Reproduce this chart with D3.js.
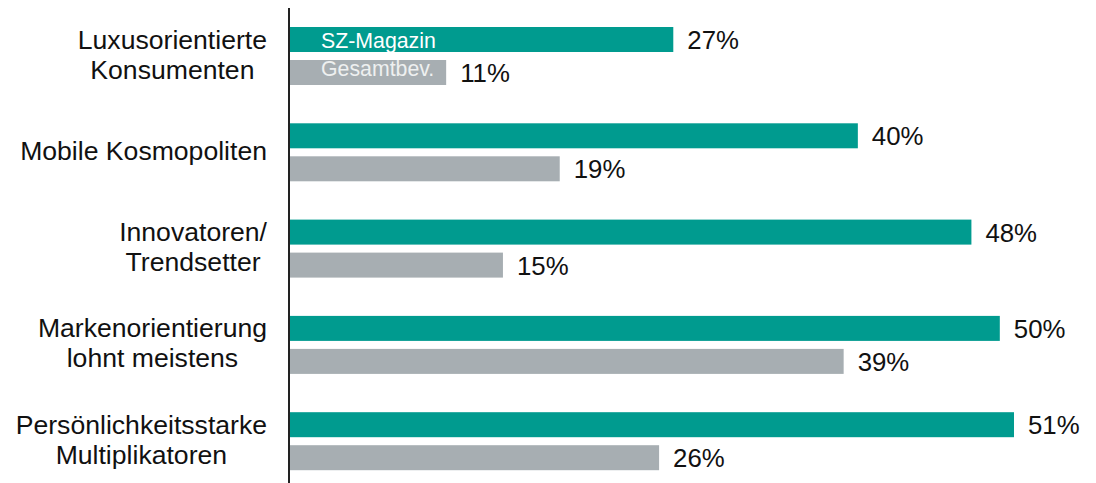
<!DOCTYPE html>
<html>
<head>
<meta charset="utf-8">
<script src="https://cdn.jsdelivr.net/npm/d3@7"></script>
<style>
  body { margin: 0; background: #fff; }
  svg { display: block; font-family: "Liberation Sans", Arial, sans-serif; }
</style>
</head>
<body>
<svg id="chart" width="1096" height="483"></svg>
<script>
"use strict";

var categories = [
    ["Luxusorientierte", "Konsumenten"],
    ["Mobile Kosmopoliten"],
    ["Innovatoren/", "Trendsetter"],
    ["Markenorientierung", "lohnt meistens"],
    ["Persönlichkeitsstarke", "Multiplikatoren"]
]
var seriesNames = ["SZ-Magazin", "Gesamtbev."]
var szMagazin = [27, 40, 48, 50, 51]
var gesamtbev = [11, 19, 15, 39, 26]

var colors = ["#009B8F", "#A7AEB2"]
var legendColors = ["#ffffff", "#eef0f0"]

var svg = d3.select("#chart")
var x0 = 290
var groupTop = 27
var groupStep = 96.3
var barH = 25
var barGap = 8

var x = d3.scaleLinear().domain([0, 51]).range([x0, 1014])
var y = d3.scaleBand()
    .domain(d3.range(categories.length))
    .range([groupTop, groupTop + groupStep * categories.length])
    .paddingInner(0)

var series = [szMagazin, gesamtbev]

series.forEach(function(values, s) {
    svg.append("g").selectAll("rect")
        .data(values)
        .enter().append("rect")
        .attr("x", x(0))
        .attr("y", function(d, i) { return y(i) + s * (barH + barGap) })
        .attr("width", function(d) { return x(d) - x(0) })
        .attr("height", barH)
        .attr("fill", colors[s])

    svg.append("g").selectAll("text")
        .data(values)
        .enter().append("text")
        .attr("x", function(d) { return x(d) + 14 })
        .attr("y", function(d, i) { return y(i) + s * (barH + barGap) + barH / 2 + 9.5 })
        .attr("font-size", 25.8)
        .attr("fill", "#111")
        .text(function(d) { return d + "%" })
})

// series names written inside the first group
var legendDy = [8.5, 3.5]
seriesNames.forEach(function(name, s) {
    svg.append("text")
        .attr("x", x0 + 31)
        .attr("y", y(0) + s * (barH + barGap) + barH / 2 + legendDy[s])
        .attr("font-size", 21.3)
        .attr("fill", legendColors[s])
        .text(name)
})

// category labels: block right-aligned, lines centred inside block
var labelRight = 267
var lineH = 30
categories.forEach(function(lines, i) {
    var g = svg.append("g")
    var texts = lines.map(function(line) {
        return g.append("text")
            .attr("font-size", 26.6)
            .attr("fill", "#111")
            .attr("text-anchor", "middle")
            .text(line)
    })
    var maxW = d3.max(texts, function(t) { return t.node().getComputedTextLength() })
    var cx = labelRight - maxW / 2
    var cy = y(i) + barH + barGap / 2
    var first = cy - (lines.length - 1) * lineH / 2 + 7.5
    texts.forEach(function(t, j) {
        t.attr("x", cx).attr("y", first + j * lineH)
    })
})

svg.append("line")
    .attr("x1", 289).attr("x2", 289)
    .attr("y1", 8).attr("y2", 483)
    .attr("stroke", "#222")
    .attr("stroke-width", 2)
</script>
</body>
</html>
